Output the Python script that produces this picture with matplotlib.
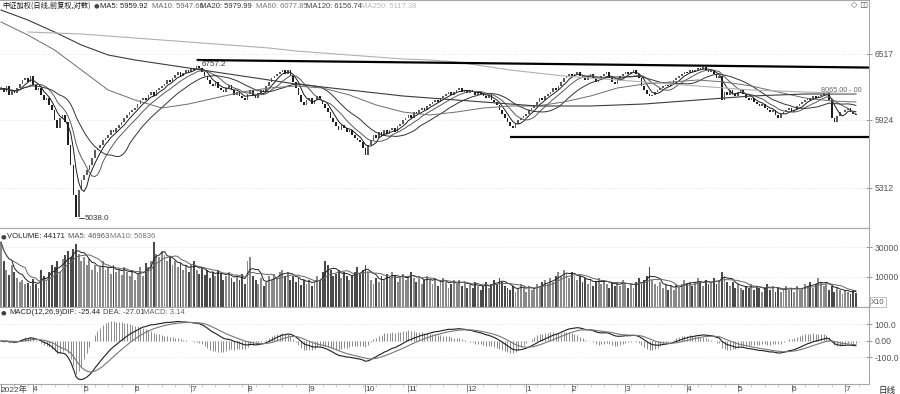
import numpy as np
import pandas as pd
import matplotlib
matplotlib.use('Agg')
import matplotlib.pyplot as plt
from matplotlib.ticker import MultipleLocator

plt.rcParams['font.family'] = ['Liberation Sans', 'Noto Sans CJK SC', 'DejaVu Sans']

# daily closes, mid Mar 2022 - early Jul 2023
closes = [
    6208, 6172, 6226, 6145, 6190, 6163, 6208, 6244, 6280, 6298,
    6262, 6316, 6235, 6190, 6208, 6145, 6100, 6118, 6055, 6010,
    5920, 5848, 5938, 5965, 5902, 5695, 5515, 5245, 5045, 5290,
    5380, 5425, 5470, 5515, 5578, 5650, 5668, 5695, 5740, 5758,
    5785, 5830, 5812, 5848, 5875, 5902, 5938, 5965, 5992, 6010,
    6028, 6064, 6100, 6118, 6100, 6145, 6172, 6136, 6190, 6208,
    6226, 6244, 6280, 6262, 6298, 6325, 6352, 6316, 6343, 6370,
    6352, 6388, 6370, 6406, 6388, 6352, 6316, 6280, 6244, 6226,
    6262, 6208, 6190, 6172, 6208, 6235, 6190, 6145, 6172, 6136,
    6118, 6100, 6154, 6190, 6145, 6118, 6163, 6190, 6172, 6226,
    6262, 6298, 6316, 6334, 6352, 6370, 6334, 6370, 6316, 6262,
    6208, 6145, 6082, 6055, 6100, 6118, 6064, 6100, 6136, 6100,
    6064, 6028, 5992, 5938, 5902, 5866, 5830, 5875, 5848, 5812,
    5830, 5785, 5758, 5740, 5722, 5668, 5605, 5695, 5740, 5785,
    5758, 5812, 5776, 5830, 5794, 5830, 5848, 5812, 5866, 5884,
    5920, 5938, 5965, 5938, 5992, 5974, 6010, 6028, 6010, 6046,
    6064, 6082, 6100, 6082, 6118, 6136, 6154, 6172, 6145, 6172,
    6190, 6208, 6172, 6190, 6163, 6190, 6172, 6145, 6172, 6154,
    6136, 6118, 6145, 6100, 6082, 6055, 6010, 5974, 5938, 5902,
    5866, 5848, 5884, 5920, 5938, 5956, 5974, 6010, 6028, 6055,
    6082, 6118, 6100, 6136, 6154, 6172, 6208, 6190, 6226, 6262,
    6298, 6316, 6334, 6316, 6334, 6352, 6316, 6298, 6280, 6316,
    6334, 6298, 6262, 6280, 6316, 6334, 6352, 6298, 6262, 6244,
    6280, 6316, 6334, 6352, 6334, 6352, 6370, 6334, 6298, 6226,
    6190, 6154, 6136, 6145, 6172, 6190, 6208, 6226, 6235, 6226,
    6244, 6280, 6298, 6316, 6334, 6352, 6343, 6370, 6352, 6370,
    6388, 6379, 6397, 6370, 6352, 6370, 6334, 6298, 6316, 6100,
    6172, 6145, 6190, 6154, 6136, 6172, 6190, 6154, 6118, 6100,
    6118, 6082, 6064, 6046, 6064, 6028, 6010, 5992, 6010, 5965,
    5938, 5974, 5992, 6010, 6028, 5992, 6010, 6046, 6064, 6082,
    6100, 6118, 6100, 6136, 6118, 6136, 6145, 6163, 6172, 6100,
    5938, 5902, 5956, 5992, 5992, 6010, 6028, 5992, 5974, 5965,
]
first_open = 6190

volumes = [
    36200, 17600, 13000, 10800, 15200, 12100, 9600, 8300, 8900, 7700,
    8000, 7100, 9300, 7700, 6600, 13000, 10400, 8900, 12100, 15200,
    14100, 17600, 12100, 19000, 22200, 25800, 20500, 27800, 33600, 23000,
    17600, 20500, 15200, 19000, 13000, 15700, 12100, 14100, 17600, 13000,
    14100, 11200, 15200, 12100, 13000, 10800, 14100, 12100, 10400, 13000,
    8900, 11200, 14100, 10400, 16400, 14100, 17600, 36200, 23000, 20500,
    25800, 22200, 17600, 20500, 15200, 17600, 14100, 16400, 13000, 15200,
    12100, 15200, 17600, 13000, 11200, 14100, 10800, 13000, 9600, 12100,
    10400, 13000, 11200, 8900, 10400, 12100, 9600, 8300, 10400, 8900,
    11200, 7700, 17600, 20500, 10400, 8900, 7700, 9600, 7100, 8300,
    10400, 8900, 11200, 9600, 12100, 13000, 10400, 12100, 8900, 10400,
    8300, 9600, 7400, 8900, 7700, 8900, 7100, 8300, 10400, 8900,
    12100, 17600, 15200, 13000, 10400, 11200, 13000, 9600, 12100, 10400,
    8900, 10400, 12100, 14100, 11200, 13000, 15200, 12100, 8900, 7700,
    9600, 8300, 10400, 8900, 11200, 9600, 12100, 10400, 8300, 9600,
    11200, 8900, 10400, 12100, 9600, 8300, 9600, 7700, 8900, 10400,
    8900, 7700, 9600, 7100, 8300, 9600, 8300, 6600, 7700, 8900,
    7700, 8900, 7100, 8300, 6600, 7700, 6600, 8300, 7100, 6100,
    7100, 8300, 6600, 7700, 8900, 7700, 9600, 8300, 7100, 6600,
    6100, 7100, 5700, 6600, 7700, 6600, 5700, 7100, 6100, 6600,
    7700, 6600, 8300, 8900, 7700, 9600, 8300, 10400, 12100, 10400,
    13000, 11200, 9600, 12100, 10400, 8900, 10400, 8300, 9600, 7700,
    8900, 7100, 8300, 9600, 7700, 8900, 7700, 6600, 8300, 7100,
    8300, 7100, 8900, 7700, 6600, 7700, 6600, 8300, 9600, 7700,
    8900, 10400, 14100, 8900, 7700, 7100, 8300, 6600, 7700, 6100,
    7100, 6100, 7700, 6600, 7700, 8900, 7700, 8300, 7100, 8300,
    9600, 8300, 7100, 8900, 7700, 8300, 9600, 7700, 8900, 12100,
    10400, 8300, 7100, 8300, 6600, 7700, 6600, 6100, 7100, 6600,
    7700, 6100, 7100, 6600, 5700, 6600, 7700, 6100, 7100, 5700,
    6600, 5700, 6100, 7100, 6100, 6600, 5700, 7100, 6100, 6600,
    7700, 7100, 8300, 6600, 7700, 9600, 8300, 7100, 7700, 6100,
    7100, 5700, 6600, 6100, 5300, 6100, 5700, 5300, 6100, 5500,
]

# long moving averages every 10 sessions
ma_days = list(range(0, 320, 10)) + [319]
ma60 = [6802, 6685, 6550, 6370, 6190, 6100, 6028, 6064, 6118, 6172,
        6208, 6226, 6208, 6145, 6055, 5992, 5965, 5992, 6028, 6046,
        6046, 6082, 6136, 6208, 6244, 6262, 6280, 6262, 6226, 6172,
        6118, 6091, 6082]
ma120 = [6910, 6820, 6712, 6595, 6505, 6460, 6424, 6388, 6352, 6316,
         6280, 6244, 6217, 6190, 6163, 6136, 6118, 6100, 6082, 6064,
         6046, 6046, 6046, 6055, 6064, 6082, 6100, 6118, 6136, 6145,
         6154, 6154, 6154]
ma250_days = list(range(10, 320, 10)) + [319]
ma250 = [6712, 6703, 6694, 6676, 6658, 6640, 6622, 6604, 6586, 6568,
         6541, 6523, 6505, 6487, 6469, 6460, 6442, 6406, 6370, 6343,
         6316, 6298, 6280, 6262, 6244, 6226, 6208, 6190, 6181, 6172,
         6163, 6154]

# hand-drawn trend lines (session, price)
upper_line = [(73, 6460), (324, 6392)]
lower_line = [(190, 5767), (324, 5767)]

month_starts = [0, 12, 31, 50, 71, 92, 115, 136, 152, 174, 196, 213, 233, 256, 275, 295, 315]
month_labels = ['2022年', '4', '5', '6', '7', '8', '9', '10', '11', '12',
                '1', '2', '3', '4', '5', '6', '7']

price_ticks = [6517, 5924, 5312]
vol_ticks = [10000, 30000]
macd_ticks = [100, 0, -100]
macd_tick_labels = ['100.0', '0.00', '-100.0']

W, H = 900, 394
GRID = dict(color='#c8c8c8', lw=0.5, linestyle=(0, (1, 3)))
CJK = ['Noto Sans CJK SC', 'DejaVu Sans']


def fx(px):
    return px / W


def fy(py):
    return 1 - py / H


n = len(closes)
x = np.arange(n)
c = np.array(closes, dtype=float)
o = np.concatenate([[first_open], c[:-1]])
up = c >= o
col = np.where(up, '#5a5a5a', '#1e1e1e')

s = pd.Series(c)
ma5 = s.rolling(5, min_periods=1).mean()
ma10 = s.rolling(10, min_periods=1).mean()
ma20 = s.rolling(20, min_periods=1).mean()

v = pd.Series(volumes, dtype=float)
vma5 = v.rolling(5, min_periods=1).mean()
vma10 = v.rolling(10, min_periods=1).mean()

dif = s.ewm(span=12, adjust=False).mean() - s.ewm(span=26, adjust=False).mean()
dea = dif.ewm(span=9, adjust=False).mean()
hist = 2 * (dif - dea)

fig = plt.figure(figsize=(9, 3.94), dpi=100)
ax = fig.add_axes([0, fy(228), fx(869), 228 / H])
axv = fig.add_axes([0, fy(307), fx(869), 79 / H], sharex=ax)
axm = fig.add_axes([0, fy(384), fx(869), 77 / H], sharex=ax)

for a in (ax, axv, axm):
    a.spines['left'].set_visible(False)
    for side in ('top', 'bottom', 'right'):
        a.spines[side].set_color('#a8a8a8')
        a.spines[side].set_linewidth(0.8)
    a.yaxis.tick_right()
    a.tick_params(axis='y', direction='inout', length=5, width=0.6, color='#888',
                  labelsize=6.2, labelcolor='#555', pad=1.5)
    a.grid(axis='y', **GRID)
    a.set_axisbelow(True)

ax.set_xlim(-0.37, 323.9)

# candles
body = np.maximum(np.abs(c - o), 4)
ax.bar(x, body, bottom=np.minimum(o, c), width=0.62, color=col, linewidth=0)

ax.plot(x, ma5, color='#1e1e1e', lw=0.7)
ax.plot(x, ma10, color='#5a5a5a', lw=0.7)
ax.plot(x, ma20, color='#333333', lw=0.7)
ax.plot(ma_days, ma60, color='#6e6e6e', lw=0.7)
ax.plot(ma_days, ma120, color='#3c3c3c', lw=0.8)
ax.plot(ma250_days, ma250, color='#b0b0b0', lw=0.8)

ax.plot(*zip(*upper_line), color='black', lw=1.6, solid_capstyle='butt')
ax.plot(*zip(*lower_line), color='black', lw=1.6, solid_capstyle='butt')

i_hi = int(np.argmax(c))
i_lo = int(np.argmin(c))
ax.plot([i_hi, i_hi + 1.5], [upper_line[0][1]] * 2, color='#333', lw=0.6)
ax.text(i_hi + 1.8, upper_line[0][1] - 5, '6757.2', fontsize=5.8, color='#333', va='top')
ax.plot([i_lo + 1, i_lo + 3], [c[i_lo] - 10] * 2, color='#333', lw=0.6)
ax.text(i_lo + 3.2, c[i_lo] - 10, '5038.0', fontsize=5.8, color='#333', va='center')
ax.text(306, 6190, '8065.00 - 00', fontsize=5.2, color='#666', va='center')

ax.set_ylim(4948, 7000)
ax.set_yticks(price_ticks)
ax.set_yticklabels([str(t) for t in price_ticks])
ax.tick_params(axis='x', bottom=False, labelbottom=False)

# volume
axv.bar(x, v, width=0.7, color=np.where(up, '#8a8a8a', '#4a4a4a'), linewidth=0)
axv.plot(x, vma5, color='#222', lw=0.7)
axv.plot(x, vma10, color='#666', lw=0.7)
axv.set_yscale('log')
axv.set_ylim(3210, 61600)
axv.set_yticks(vol_ticks)
axv.set_yticklabels([str(t) for t in vol_ticks])
axv.minorticks_off()
axv.tick_params(axis='x', bottom=False, labelbottom=False)

# macd
axm.vlines(x, 0, hist, color='#8a8a8a', lw=0.7)
axm.plot(x, dif, color='#1e1e1e', lw=0.8)
axm.plot(x, dea, color='#777777', lw=0.8)
axm.set_ylim(-261, 206)
axm.set_yticks(macd_ticks)
axm.set_yticklabels(macd_tick_labels)

axm.set_xticks(month_starts)
axm.set_xticklabels(month_labels)
axm.xaxis.set_minor_locator(MultipleLocator(5))
axm.tick_params(axis='x', which='major', direction='out', length=6, width=0.6,
                color='#777', labelsize=6, labelcolor='#444', pad=-4.5)
axm.tick_params(axis='x', which='minor', direction='out', length=2, width=0.5, color='#bbb')
for lab in axm.get_xticklabels():
    lab.set_ha('left')

# header texts
head = dict(fontsize=5.5, va='center')
fig.text(fx(2), fy(6), '中证加权(日线,前复权,对数)', color='#111', fontsize=5.2,
         va='center', family=CJK)
fig.text(fx(94), fy(6), '●', color='#444', fontsize=4.6, va='center', family='DejaVu Sans')
for px, txt, cl in [(100, 'MA5: 5959.92', '#222'), (152, 'MA10: 5947.66', '#666'),
                    (200, 'MA20: 5979.99', '#333'), (256, 'MA60: 6077.85', '#777'),
                    (306, 'MA120: 6156.74', '#444'), (361, 'MA250: 5117.38', '#bbb')]:
    fig.text(fx(px), fy(6), txt, color=cl, **head)

fig.text(fx(1), fy(237), '●', color='#444', fontsize=4.6, va='center', family='DejaVu Sans')
for px, txt, cl in [(7, 'VOLUME: 44171', '#222'), (68, 'MA5: 46963', '#555'),
                    (110, 'MA10: 50836', '#777')]:
    fig.text(fx(px), fy(237), txt, color=cl, **head)

fig.text(fx(1), fy(313), '●', color='#444', fontsize=4.6, va='center', family='DejaVu Sans')
for px, txt, cl in [(9, 'MACD(12,26,9)', '#222'), (62, 'DIF: -25.44', '#222'),
                    (103, 'DEA: -27.01', '#444'), (143, 'MACD: 3.14', '#666')]:
    fig.text(fx(px), fy(313), txt, color=cl, **head)

fig.text(fx(851), fy(5), '◇ ◫', color='#555', fontsize=6, va='center', family='DejaVu Sans')
fig.text(fx(871), fy(302), 'X10', color='#555', fontsize=5.5, va='center',
         bbox=dict(boxstyle='square,pad=0.15', fc='white', ec='#aaa', lw=0.5))
fig.text(fx(878), fy(390), '日线', color='#222', fontsize=6.2, va='center', family=CJK)

fig.savefig('out.png', dpi=100)
